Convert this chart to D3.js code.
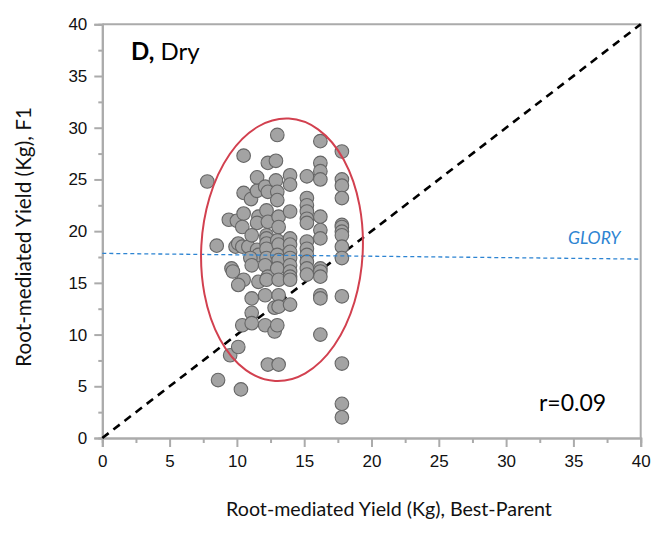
<!DOCTYPE html>
<html>
<head>
<meta charset="utf-8">
<script src="https://cdn.jsdelivr.net/npm/d3@7"></script>
<style>
  body { margin: 0; background: #fff; }
  svg { display: block; }
</style>
</head>
<body>
<svg id="chart" width="667" height="533"></svg>
<script>
// Best-parent root-mediated yield (kg) for each F1 hybrid
const bestParent = [
  7.8, 8.5, 8.6, 9.5, 9.4, 10.0, 9.6, 9.7, 9.9, 10.1, 10.3, 10.4, 10.5, 10.5, 10.5, 10.4, 10.1, 10.4, 10.85, 10.5, 10.1,
  11.05, 11.5, 11.5, 11.6, 11.5, 11.1, 11.5, 11.6, 11.0, 11.1, 11.6, 11.1, 11.1, 11.1,
  12.1, 12.3, 12.3, 12.2, 12.3, 12.2, 12.2, 12.2, 12.2, 12.2, 12.1, 12.3, 12.2, 12.1, 12.1, 12.3, 12.8, 12.8,
  13.0, 12.9, 12.9, 13.0, 13.0, 13.1, 13.1, 13.0, 13.1, 13.0, 13.1, 13.0, 13.1, 13.1, 13.1, 13.0, 13.1,
  13.95, 13.95, 13.95, 13.95, 13.95, 13.95, 13.95, 13.95, 13.95, 13.95, 13.95, 13.95,
  15.2, 15.2, 15.2, 15.2, 15.2, 15.2, 15.2, 15.2, 15.2, 15.2, 15.2, 15.2,
  16.2, 16.2, 16.2, 16.2, 16.2, 16.2, 16.2, 16.2, 16.2, 16.2, 16.2, 16.2, 16.2,
  17.8, 17.8, 17.8, 17.8, 17.8, 17.8, 17.8, 17.8, 17.8, 17.8, 17.8, 17.8, 17.8, 17.8
];
// Root-mediated yield (kg) of the F1 hybrid
const f1Yield = [
  24.8, 18.6, 5.6, 8.0, 21.1, 21.0, 16.4, 16.1, 18.5, 8.8, 4.7, 10.9, 27.3, 23.7, 21.7, 20.4, 18.8, 18.5, 18.5, 15.3, 14.8,
  23.1, 23.9, 25.2, 21.4, 20.8, 19.6, 18.2, 17.7, 17.4, 16.7, 15.1, 13.5, 12.1, 11.1,
  24.3, 23.8, 26.6, 22.0, 20.9, 19.6, 19.3, 18.8, 18.3, 17.4, 16.7, 15.6, 15.3, 13.8, 10.9, 7.1, 12.6, 10.3,
  29.3, 26.8, 24.9, 23.8, 23.0, 21.4, 20.4, 19.1, 18.7, 17.7, 17.2, 16.4, 15.3, 13.8, 12.7, 10.9, 7.1,
  25.4, 24.5, 21.9, 19.3, 18.7, 18.0, 17.4, 16.7, 16.1, 15.6, 15.3, 12.9,
  25.3, 23.2, 22.5, 21.9, 21.2, 20.8, 19.0, 18.3, 17.7, 17.05, 16.4, 15.8,
  28.7, 26.6, 25.8, 25.0, 21.4, 20.1, 19.3, 16.4, 16.1, 15.6, 13.8, 13.5, 10.0,
  27.7, 25.0, 24.4, 23.2, 20.6, 20.4, 19.95, 19.6, 18.5, 17.4, 13.7, 7.2, 3.3, 2.0
];

const majorTicks = [0, 5, 10, 15, 20, 25, 30, 35, 40];
const minorTicks = [2.5, 7.5, 12.5, 17.5, 22.5, 27.5, 32.5, 37.5];

// GLORY check line: F1 yield at x = 0 and x = 40
const gloryX = [0, 40];
const gloryY = [17.85, 17.3];

const panelLabel = ["D,", " Dry"];
const corrLabel = "r=0.09";
const xTitle = "Root-mediated Yield (Kg), Best-Parent";
const yTitle = "Root-mediated Yield (Kg), F1";

// ---------------------------------------------------------------
const svg = d3.select("#chart");
const axisGrey = "#ababab";
const titleFont = "Lato, 'Open Sans', sans-serif";
const tickFont = "'Liberation Sans', Arial, sans-serif";

const x = d3.scaleLinear().domain([0, 40]).range([102.3, 640.7]);
const y = d3.scaleLinear().domain([0, 40]).range([438, 24.3]);

// frame: top and right edges
svg.append("path")
  .attr("d", `M${x(0)},${y(40)}H${x(40)}V${y(0)}`)
  .attr("fill", "none").attr("stroke", axisGrey).attr("stroke-width", 2);

function styleAxis(g) {
  g.select(".domain").attr("stroke", axisGrey).attr("stroke-width", 2);
  g.selectAll(".tick line").attr("stroke", axisGrey).attr("stroke-width", 2);
  g.selectAll(".tick text")
    .attr("fill", "#111").attr("font-family", tickFont).attr("font-size", 17);
}

// minor ticks
svg.append("g").attr("transform", `translate(0,${y(0)})`)
  .call(d3.axisBottom(x).tickValues(minorTicks).tickSize(5).tickFormat(""))
  .call(styleAxis);
svg.append("g").attr("transform", `translate(${x(0)},0)`)
  .call(d3.axisLeft(y).tickValues(minorTicks).tickSize(4).tickFormat(""))
  .call(styleAxis);

// major ticks with labels
svg.append("g").attr("transform", `translate(0,${y(0)})`)
  .call(d3.axisBottom(x).tickValues(majorTicks).tickSize(9).tickPadding(8).tickFormat(d3.format("d")))
  .call(styleAxis);
svg.append("g").attr("transform", `translate(${x(0)},0)`)
  .call(d3.axisLeft(y).tickValues(majorTicks).tickSize(8).tickPadding(7).tickFormat(d3.format("d")))
  .call(styleAxis);

// 1:1 line
svg.append("line")
  .attr("x1", x(0)).attr("y1", y(0)).attr("x2", x(40)).attr("y2", y(40))
  .attr("stroke", "#000").attr("stroke-width", 2.6).attr("stroke-dasharray", "8,6");

// hybrids
const pts = bestParent.map((v, i) => ({ bp: v, f1: f1Yield[i] }));
svg.append("g").selectAll("circle").data(pts).join("circle")
  .attr("cx", d => x(d.bp)).attr("cy", d => y(d.f1)).attr("r", 6.8)
  .attr("fill", "#a3a3a3").attr("stroke", "#666").attr("stroke-width", 1.1);

// GLORY reference
svg.append("line")
  .attr("x1", x(gloryX[0])).attr("y1", y(gloryY[0]))
  .attr("x2", x(gloryX[1])).attr("y2", y(gloryY[1]))
  .attr("stroke", "#2d84d2").attr("stroke-width", 1.3).attr("stroke-dasharray", "4,3");
svg.append("text")
  .attr("x", 568).attr("y", 244)
  .attr("font-family", titleFont).attr("font-style", "italic").attr("font-size", 17.5)
  .attr("fill", "#2d84d2").text("GLORY");

// highlighted cluster
const ell = { cx: 13.35, cy: 18.2, rx: 6.0, ry: 12.7 };
svg.append("ellipse")
  .attr("cx", 0).attr("cy", 0)
  .attr("rx", x(ell.rx) - x(0)).attr("ry", y(0) - y(ell.ry))
  .attr("transform", `translate(${x(ell.cx)},${y(ell.cy)}) rotate(3)`)
  .attr("fill", "none").attr("stroke", "#d2404f").attr("stroke-width", 2);

// panel label
const pl = svg.append("text").attr("x", 131).attr("y", 60)
  .attr("font-family", titleFont).attr("font-size", 24).attr("fill", "#000");
pl.append("tspan").attr("font-weight", "bold").text(panelLabel[0]);
pl.append("tspan").text(panelLabel[1]);

svg.append("text").attr("x", 539).attr("y", 411)
  .attr("font-family", titleFont).attr("font-size", 23).attr("fill", "#000")
  .text(corrLabel);

// axis titles, sized to their span
function fitWidth(sel, w) {
  const len = sel.node().getComputedTextLength();
  const fs = parseFloat(sel.attr("font-size"));
  sel.attr("font-size", fs * w / len);
}
const xt = svg.append("text").attr("x", 389).attr("y", 516)
  .attr("text-anchor", "middle").attr("font-family", titleFont)
  .attr("font-size", 17).attr("fill", "#111").text(xTitle);
fitWidth(xt, 326);

const yt = svg.append("text")
  .attr("transform", "translate(31,237) rotate(-90)")
  .attr("text-anchor", "middle").attr("font-family", titleFont)
  .attr("font-size", 17).attr("fill", "#111").text(yTitle);
fitWidth(yt, 260);
</script>
</body>
</html>
